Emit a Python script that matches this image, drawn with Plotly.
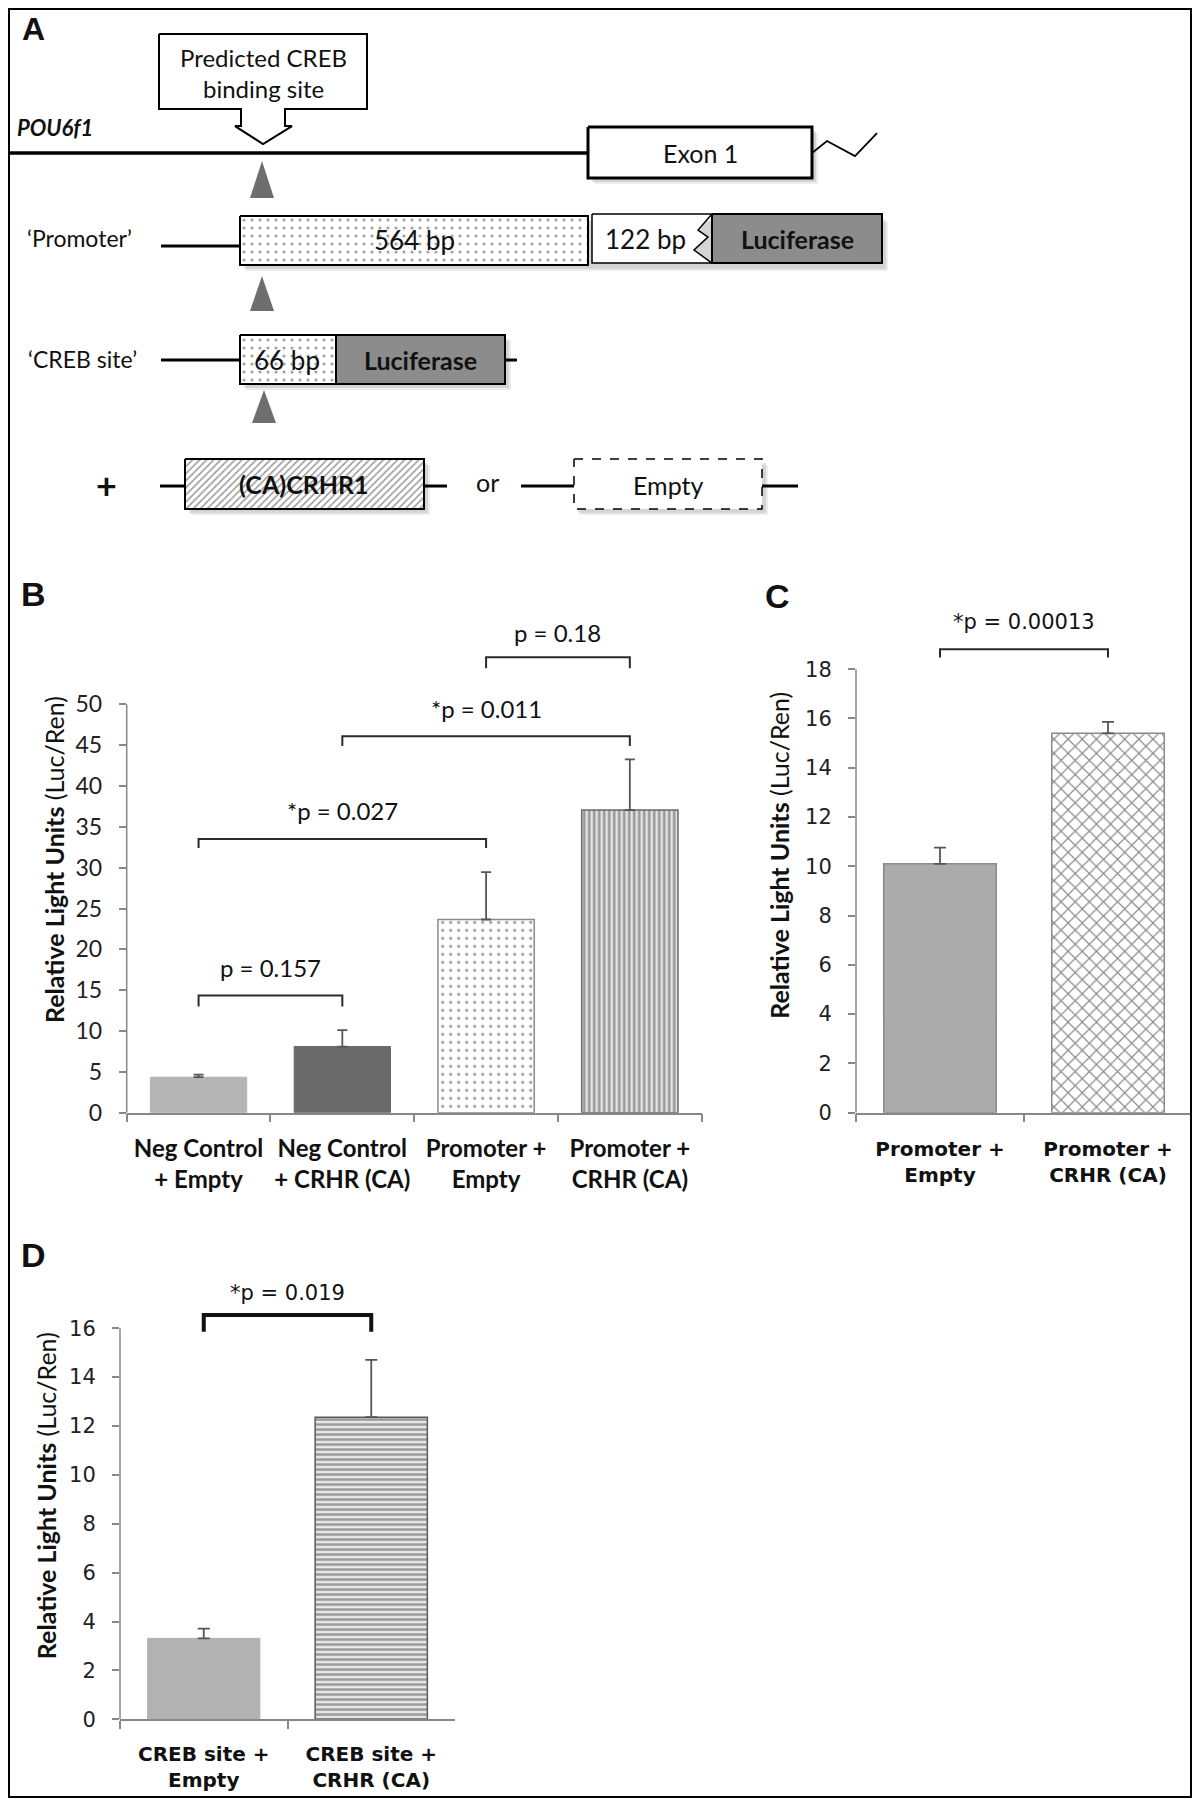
import plotly.graph_objects as go

# Page body keeps its default 8px margin; the capture maps page y to picture y with a
# small vertical factor, so layout positions are converted from picture pixels.
OFF = 8
WIN_W, WIN_H = 1200, 1806
S = 1806 / 1819.0
W, H = WIN_W - 2 * OFF, 1819 - 2 * OFF

# ---------------- DATA ----------------
# Panel B
b_categories = ["Neg Control<br>+ Empty", "Neg Control<br>+ CRHR (CA)",
                "Promoter +<br>Empty", "Promoter +<br>CRHR (CA)"]
b_values = [4.35, 8.1, 23.65, 37.05]
b_errors = [0.3, 2.0, 5.8, 6.2]
b_ticks = [0, 5, 10, 15, 20, 25, 30, 35, 40, 45, 50]
b_p_labels = ["p = 0.157", "*p = 0.027", "*p = 0.011", "p = 0.18"]
b_p_left = [0, 0, 1, 2]
b_p_right = [1, 2, 3, 3]

# Panel C
c_categories = ["Promoter +<br>Empty", "Promoter +<br>CRHR (CA)"]
c_values = [10.1, 15.4]
c_errors = [0.66, 0.46]
c_ticks = [0, 2, 4, 6, 8, 10, 12, 14, 16, 18]
c_p_labels = ["*p = 0.00013"]

# Panel D
d_categories = ["CREB site +<br>Empty", "CREB site +<br>CRHR (CA)"]
d_values = [3.31, 12.36]
d_errors = [0.40, 2.35]
d_ticks = [0, 2, 4, 6, 8, 10, 12, 14, 16]
d_p_labels = ["*p = 0.019"]

# ---------------- LAYOUT GEOMETRY (picture pixels) ----------------
B_PX = dict(left=126.7, right=701.7, zero=1112.7, ref_val=50, ref_px=704.3, ymax=62)
C_PX = dict(left=856.0, right=1192.0, zero=1112.7, ref_val=18, ref_px=669.2, ymax=20.9)
D_PX = dict(left=120.0, right=455.0, zero=1719.3, ref_val=16, ref_px=1328.3, ymax=18.3)

# bracket heights (data units): bar level, leg end, text level
b_br = [(14.35, 13.0, 17.75), (33.5, 32.4, 37.0), (46.1, 44.9, 49.5), (55.75, 54.4, 58.85)]
c_br = [(18.81, 18.48, 19.9)]
d_br = [(16.54, 15.86, 17.44)]

# bar styles
b_styles = [
    dict(color="#b4b4b4", line=dict(color="#b4b4b4", width=1)),
    dict(color="#6a6a6a", line=dict(color="#6a6a6a", width=1)),
    dict(color="white", line=dict(color="#8a8a8a", width=1.5),
         pattern=dict(shape=".", fgcolor="#222222", bgcolor="white", size=8, solidity=0.12)),
    dict(color="#dddddd", line=dict(color="#6a6a6a", width=1.5),
         pattern=dict(shape="|", fgcolor="#4a4a4a", bgcolor="#e4e4e4", size=5, solidity=0.5)),
]
c_styles = [
    dict(color="#ababab", line=dict(color="#8a8a8a", width=1.5)),
    dict(color="white", line=dict(color="#8a8a8a", width=1.5),
         pattern=dict(shape="x", fgcolor="#151515", bgcolor="white", size=10, solidity=0.22)),
]
d_styles = [
    dict(color="#b2b2b2", line=dict(color="#b2b2b2", width=1)),
    dict(color="#e0e0e0", line=dict(color="#5a5a5a", width=1.5),
         pattern=dict(shape="-", fgcolor="#4a4a4a", bgcolor="#e8e8e8", size=5, solidity=0.5)),
]


def px_x(x):
    return (x - OFF) / W


def px_y(y):
    return 1 - (y / S - OFF) / H


def xdom(p):
    return [px_x(p["left"]), min(1.0, px_x(p["right"]))]


def ydom(p):
    ppu = (p["zero"] - p["ref_px"]) / p["ref_val"]
    top = p["zero"] - p["ymax"] * ppu
    return [px_y(p["zero"]), px_y(top)]


AX = "#878787"
CAL = "Lato"
VER = "DejaVu Sans"

fig = go.Figure()


def add_bars(cats, vals, errs, styles, xa, ya, cap):
    for c, v, e, st in zip(cats, vals, errs, styles):
        fig.add_trace(go.Bar(
            x=[c], y=[v], width=0.67, xaxis=xa, yaxis=ya, marker=st,
            error_y=dict(type="data", array=[e], arrayminus=[0], symmetric=False,
                         color="#555555", thickness=1.8, width=cap),
            hoverinfo="skip", showlegend=False))


def add_bracket(cats, i, j, yb, yl, yt, text, xa, ya, lw, color, font):
    fig.add_trace(go.Scatter(
        x=[cats[i], cats[i], cats[j], cats[j]], y=[yl, yb, yb, yl], mode="lines",
        xaxis=xa, yaxis=ya, line=dict(color=color, width=lw),
        hoverinfo="skip", showlegend=False))
    fig.add_annotation(x=(i + j) / 2, y=yt, xref=xa, yref=ya, text=text, showarrow=False,
                       font=font)


# Panel B
add_bars(b_categories, b_values, b_errors, b_styles, "x", "y", 5)
for lab, i, j, (yb, yl, yt) in zip(b_p_labels, b_p_left, b_p_right, b_br):
    add_bracket(b_categories, i, j, yb, yl, yt, lab, "x", "y", 2, "#2a2a2a",
                dict(family=CAL, size=24, color="#111"))

# Panel C
add_bars(c_categories, c_values, c_errors, c_styles, "x2", "y2", 6)
for lab, (yb, yl, yt) in zip(c_p_labels, c_br):
    add_bracket(c_categories, 0, 1, yb, yl, yt, lab, "x2", "y2", 2, "#2a2a2a",
                dict(family=VER, size=21, color="#111"))

# Panel D
add_bars(d_categories, d_values, d_errors, d_styles, "x3", "y3", 6)
for lab, (yb, yl, yt) in zip(d_p_labels, d_br):
    add_bracket(d_categories, 0, 1, yb, yl, yt, lab, "x3", "y3", 4, "#111",
                dict(family=VER, size=21, color="#111"))

# ---------------- Panel A schematic (picture-pixel coordinates on hidden axes) ----------------
def poly(pts, fill="white", lc="black", lw=2, dash=None, pattern=None):
    xs = [p[0] for p in pts] + [pts[0][0]]
    ys = [p[1] for p in pts] + [pts[0][1]]
    kw = dict(x=xs, y=ys, mode="lines", fill="toself", fillcolor=fill,
              line=dict(color=lc, width=lw, dash=dash) if lw > 0 else dict(width=0),
              xaxis="x4", yaxis="y4", hoverinfo="skip", showlegend=False)
    if pattern:
        kw["fillpattern"] = pattern
    fig.add_trace(go.Scatter(**kw))


def rect(x0, y0, x1, y1, **kw):
    poly([(x0, y0), (x1, y0), (x1, y1), (x0, y1)], **kw)


def shadow(x0, y0, x1, y1):
    rect(x0 + 6, y0 + 6, x1 + 6, y1 + 6, fill="rgba(0,0,0,0.07)", lw=0)
    rect(x0 + 4, y0 + 4, x1 + 4, y1 + 4, fill="rgba(0,0,0,0.10)", lw=0)


def line(pts, lw=3, color="black"):
    fig.add_trace(go.Scatter(x=[p[0] for p in pts], y=[p[1] for p in pts], mode="lines",
                             line=dict(color=color, width=lw), xaxis="x4", yaxis="y4",
                             hoverinfo="skip", showlegend=False))


def tri(cx, ytop, ybase, hw=12):
    poly([(cx, ytop), (cx + hw, ybase), (cx - hw, ybase)], fill="#6e6e6e", lw=0)


def label(x, y, text, size=24, family=CAL, color="#111"):
    fig.add_annotation(x=x, y=y, xref="x4", yref="y4", text=text, showarrow=False,
                       font=dict(family=family, size=size, color=color))


dots = dict(shape=".", fgcolor="#444444", bgcolor="white", size=8, solidity=0.12)
hatch = dict(shape="/", fgcolor="#333333", bgcolor="white", size=5, solidity=0.3)

# callout
poly([(159, 34), (367, 34), (367, 109), (285, 109), (285, 126), (292, 126), (263, 144),
      (235, 126), (241, 126), (241, 109), (159, 109)], fill="white", lw=2)
label(263, 57, "Predicted CREB", 24)
label(263, 88, "binding site", 24)

# gene line
label(55, 127, "<b><i>POU6f1</i></b>", 22)
line([(9, 153), (588, 153)], lw=3.5)
shadow(588, 127, 812, 178)
rect(588, 127, 812, 178, fill="white", lw=3)
label(700, 153, "Exon 1", 25)
line([(812, 153), (827, 141), (855, 156), (877, 133)], lw=1.8)

tri(262, 161, 198)

# Promoter row
label(79, 238, "\u2018Promoter\u2019", 23)
line([(161, 246), (240, 246)], lw=3)
shadow(240, 216, 882, 265)
rect(240, 216, 588, 265, fill="white", lw=2, pattern=dots)
label(414, 240, "564 bp", 26)
poly([(592, 214), (712, 214), (698, 230), (708, 237), (694, 250), (712, 263), (592, 263)],
     fill="white", lw=1.5)
label(645, 239, "122 bp", 26)
rect(712, 214, 882, 263, fill="#8c8c8c", lw=2)
label(797, 239, "<b>Luciferase</b>", 25)

tri(262, 276, 311)

# CREB site row
label(82, 359, "\u2018CREB site\u2019", 23)
line([(161, 360), (240, 360)], lw=3)
shadow(240, 335, 505, 384)
rect(240, 335, 336, 384, fill="white", lw=2, pattern=dots)
label(287, 360, "66 bp", 26)
rect(336, 335, 505, 384, fill="#8c8c8c", lw=2)
label(420, 360, "<b>Luciferase</b>", 25)
line([(505, 360), (517, 360)], lw=3)

tri(264, 390, 423)

# bottom row
label(106, 485, "<b>+</b>", 36)
line([(160, 486), (185, 486)], lw=3)
shadow(185, 459, 424, 509)
rect(185, 459, 424, 509, fill="white", lw=2, pattern=hatch)
label(304, 484, "<b>(CA)CRHR1</b>", 25)
line([(424, 486), (447, 486)], lw=3)
label(487, 482, "or", 25)
line([(521, 486), (574, 486)], lw=3)
shadow(574, 459, 762, 509)
rect(574, 459, 762, 509, fill="white", lw=1.5, dash="dash")
label(668, 485, "Empty", 25)
line([(762, 486), (798, 486)], lw=3)

# ---------------- Axes ----------------
def xaxis_style(p, anchor, n, font, standoff):
    return dict(domain=xdom(p), anchor=anchor, type="category", range=[-0.5, n - 0.5],
                showline=True, linecolor=AX, linewidth=1.5, ticks="outside",
                tickson="boundaries", ticklen=8, tickcolor=AX, tickwidth=1.5, tickangle=0,
                showgrid=False, zeroline=False, tickfont=font, ticklabelstandoff=standoff,
                fixedrange=True)


def yaxis_style(p, anchor, ticks, font, tfont, standoff):
    return dict(domain=ydom(p), anchor=anchor, range=[0, p["ymax"]], tickvals=ticks,
                showline=False, ticks="outside", ticklen=7, tickcolor=AX, tickwidth=1.5,
                showgrid=False, zeroline=False, tickfont=font, ticklabelstandoff=12,
                title=dict(text="<b>Relative Light Units</b> (Luc/Ren)", font=tfont,
                           standoff=standoff),
                fixedrange=True)


fig.update_layout(
    width=W, height=H, autosize=False, margin=dict(l=0, r=0, t=0, b=0, pad=0),
    paper_bgcolor="white", plot_bgcolor="white", showlegend=False, barmode="overlay",
    xaxis=xaxis_style(B_PX, "y", 4, dict(family=CAL, size=24, color="#111", weight="bold"), 14),
    yaxis=yaxis_style(B_PX, "x", b_ticks, dict(family=CAL, size=23, color="#222"),
                      dict(family=CAL, size=25, color="#111"), 3),
    xaxis2=xaxis_style(C_PX, "y2", 2, dict(family=VER, size=20, color="#111", weight="bold"), 18),
    yaxis2=yaxis_style(C_PX, "x2", c_ticks, dict(family=VER, size=21, color="#222"),
                       dict(family=CAL, size=25, color="#111"), 8),
    xaxis3=xaxis_style(D_PX, "y3", 2, dict(family=VER, size=20, color="#111", weight="bold"), 16),
    yaxis3=yaxis_style(D_PX, "x3", d_ticks, dict(family=VER, size=21, color="#222"),
                       dict(family=CAL, size=25, color="#111"), 5),
    xaxis4=dict(domain=[0, 1], range=[OFF, OFF + W], visible=False, fixedrange=True, anchor="y4"),
    yaxis4=dict(domain=[px_y(560), 1], range=[560, OFF * S], visible=False, fixedrange=True,
                anchor="x4"),
)

# y-axis lines only up to the last tick
for p, xr, yr, ticks in [(B_PX, "x domain", "y", b_ticks), (C_PX, "x2 domain", "y2", c_ticks),
                         (D_PX, "x3 domain", "y3", d_ticks)]:
    fig.add_shape(type="line", xref=xr, yref=yr, x0=0, x1=0, y0=0, y1=ticks[-1],
                  line=dict(color=AX, width=1.5))

# outer border (as close to the window edge as the page margin allows)
fig.add_shape(type="rect", xref="paper", yref="paper", x0=1 / W, x1=1 - 1 / W,
              y0=1 / H, y1=1 - 1 / H, line=dict(color="black", width=2))

# panel letters
fig.add_annotation(x=px_x(33), y=1 - 1 / H, xref="paper", yref="paper", text="<b>A</b>",
                   xanchor="center", yanchor="top", showarrow=False,
                   font=dict(family="Liberation Sans", size=32, color="#111"))
for t, px, py in [("B", 33, 594), ("C", 777, 596), ("D", 33, 1255)]:
    fig.add_annotation(x=px_x(px), y=px_y(py), xref="paper", yref="paper", text="<b>%s</b>" % t,
                       xanchor="center", yanchor="middle", showarrow=False,
                       font=dict(family="Liberation Sans", size=34, color="#111"))

fig.write_html("out.html", config={"responsive": False, "displayModeBar": False})
